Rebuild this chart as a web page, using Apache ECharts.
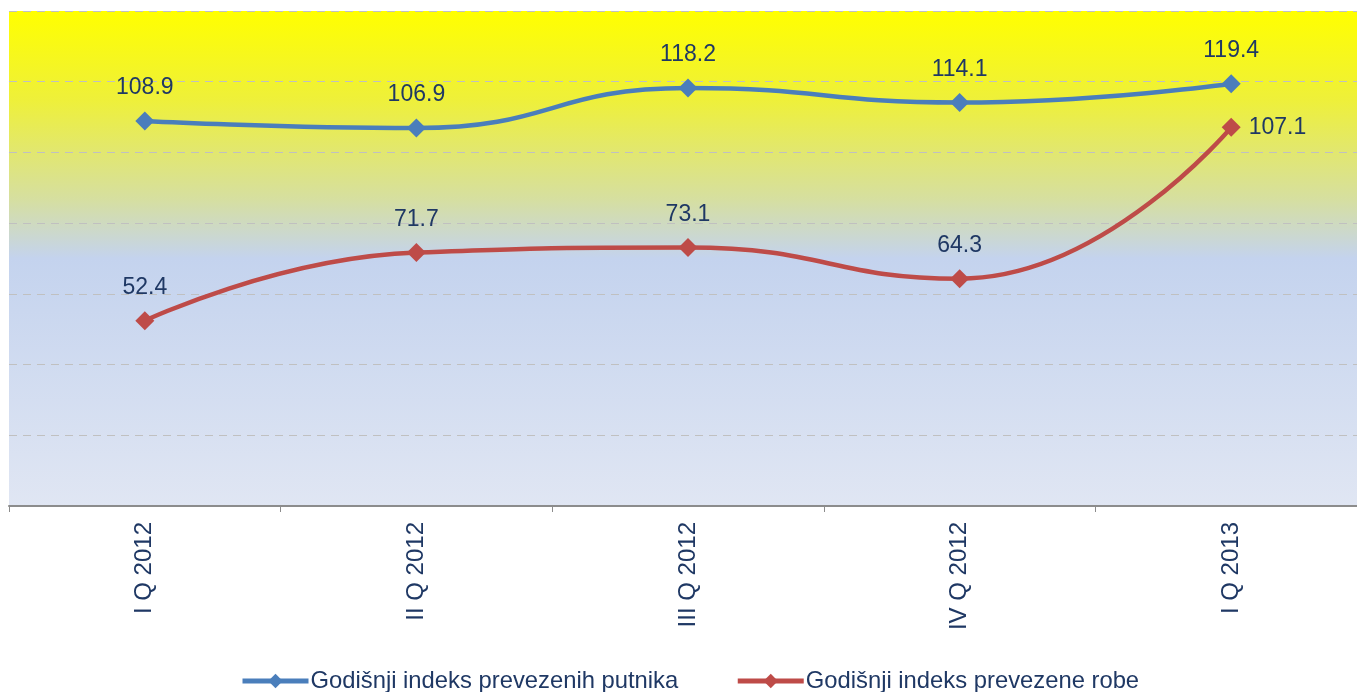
<!DOCTYPE html>
<html>
<head>
<meta charset="utf-8">
<script src="https://cdn.jsdelivr.net/npm/echarts@6/dist/echarts.min.js"></script>
<style>
  html, body { margin: 0; padding: 0; background: #fff; overflow: hidden; }
  #chart { width: 1367px; height: 692px; }
</style>
</head>
<body>
<div id="chart"></div>
<script>
const categories = ["I Q 2012", "II Q 2012", "III Q 2012", "IV Q 2012", "I Q 2013"];
const passengers = [108.9, 106.9, 118.2, 114.1, 119.4];
const goods = [52.4, 71.7, 73.1, 64.3, 107.1];
const seriesNames = ["Godišnji indeks prevezenih putnika", "Godišnji indeks prevezene robe"];

const textColor = "#1f3864";
const font = "Liberation Sans, Arial, sans-serif";

const chart = echarts.init(document.getElementById("chart"));

const labelStyle = {
  show: true,
  position: "top",
  distance: 12,
  fontSize: 23,
  fontFamily: font,
  color: textColor,
  formatter: (p) => p.value.toFixed(1)
};

chart.setOption({
  animation: false,
  grid: {
    left: 9,
    top: 11,
    right: 0,
    bottom: 186,
    show: true,
    borderWidth: 0,
    backgroundColor: new echarts.graphic.LinearGradient(0, 0, 0, 1, [
      { offset: 0, color: "#ffff00" },
      { offset: 0.18, color: "#eef03a" },
      { offset: 0.38, color: "#d6dfa0" },
      { offset: 0.5, color: "#c4d3ee" },
      { offset: 1, color: "#e0e6f3" }
    ])
  },
  legend: {
    bottom: -6,
    left: 235,
    itemWidth: 66,
    itemHeight: 18,
    itemGap: 57,
    textStyle: { fontSize: 23.8, fontFamily: font, color: textColor, padding: [0, 0, 0, -3] },
    lineStyle: { width: 5 },
    data: seriesNames
  },
  xAxis: {
    type: "category",
    data: categories,
    boundaryGap: true,
    axisLine: { lineStyle: { color: "#8c8c8c", width: 2 } },
    axisTick: { show: true, length: 6, lineStyle: { color: "#8c8c8c" } },
    axisLabel: {
      rotate: 90,
      margin: 16,
      fontSize: 24,
      fontFamily: font,
      color: textColor
    }
  },
  yAxis: {
    type: "value",
    min: 0,
    max: 140,
    interval: 20,
    axisLine: { show: false },
    axisTick: { show: false },
    axisLabel: { show: false },
    splitLine: { lineStyle: { color: "#c0c0c0", type: [8, 6], width: 1.2 } }
  },
  series: [
    {
      name: seriesNames[0],
      type: "line",
      data: passengers,
      smooth: 0.5,
      symbol: "diamond",
      symbolSize: 19,
      lineStyle: { width: 4.5, color: "#4a7ebb" },
      itemStyle: { color: "#4a7ebb" },
      label: labelStyle
    },
    {
      name: seriesNames[1],
      type: "line",
      data: goods.map((v, i) =>
        i === goods.length - 1
          ? { value: v, label: { position: "right", distance: 8 } }
          : v
      ),
      smooth: 0.5,
      symbol: "diamond",
      symbolSize: 19,
      lineStyle: { width: 4.5, color: "#be4b48" },
      itemStyle: { color: "#be4b48" },
      label: labelStyle
    }
  ]
});
</script>
</body>
</html>
